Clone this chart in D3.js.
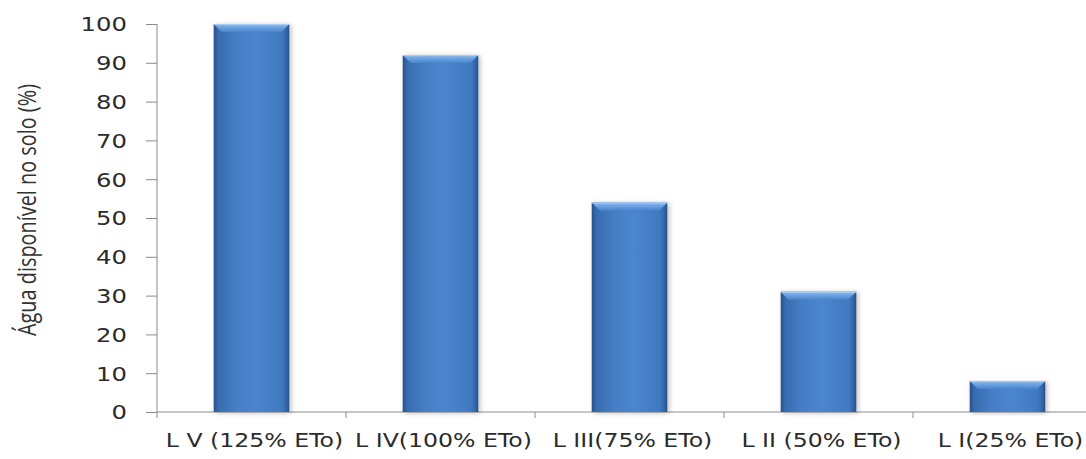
<!DOCTYPE html>
<html>
<head>
<meta charset="utf-8">
<script src="https://cdn.jsdelivr.net/npm/d3@7"></script>
<style>
  html, body { margin: 0; padding: 0; background: #fff; }
  svg { display: block; }
</style>
</head>
<body>
<svg id="chart" width="1086" height="459"></svg>
<script>
// Lâminas de irrigação e água disponível no solo
const categories = ["L V (125% ETo)", "L IV(100% ETo)", "L III(75% ETo)", "L II (50% ETo)", "L I(25% ETo)"];
const values = [100, 92, 54, 31, 8];
const yTicks = [0, 10, 20, 30, 40, 50, 60, 70, 80, 90, 100];
const yTitle = "Água disponível no solo (%)";

const W = 1086, H = 459;
const plotLeft = 157, plotTop = 24, plotBottom = 412, step = 189;

const svg = d3.select("#chart");

const x = d3.scaleBand()
  .domain(categories)
  .range([plotLeft, plotLeft + step * categories.length])
  .padding(0);
const y = d3.scaleLinear().domain([0, 100]).range([plotBottom, plotTop]);

const defs = svg.append("defs");

// body of each bar: darker at the sides, lighter in the middle
const gBody = defs.append("linearGradient").attr("id", "barBody")
  .attr("x1", "0").attr("x2", "1").attr("y1", "0").attr("y2", "0");
[[0, "#274f87"], [0.06, "#386cb0"], [0.3, "#467ec5"], [0.55, "#4b86cf"], [0.9, "#4079c0"], [0.96, "#3466a8"], [1, "#274f87"]]
  .forEach(([o, c]) => gBody.append("stop").attr("offset", o).attr("stop-color", c));

// top bevel
const gTop = defs.append("linearGradient").attr("id", "barTop")
  .attr("x1", "0").attr("x2", "0").attr("y1", "0").attr("y2", "1");
[[0, "#94c1f2"], [0.35, "#72a7e5"], [1, "#4a84cc"]]
  .forEach(([o, c]) => gTop.append("stop").attr("offset", o).attr("stop-color", c));

const shadow = defs.append("filter").attr("id", "barShadow")
  .attr("x", "-20%").attr("y", "-5%").attr("width", "140%").attr("height", "115%");
shadow.append("feGaussianBlur").attr("in", "SourceAlpha").attr("stdDeviation", 2.5).attr("result", "b");
shadow.append("feOffset").attr("in", "b").attr("dx", 2).attr("dy", 1).attr("result", "o");
shadow.append("feComponentTransfer").attr("in", "o").attr("result", "s")
  .append("feFuncA").attr("type", "linear").attr("slope", 0.25);
const merge = shadow.append("feMerge");
merge.append("feMergeNode").attr("in", "s");
merge.append("feMergeNode").attr("in", "SourceGraphic");

// axes
const axisColor = "#8c8c8c";
const yAxis = svg.append("g")
  .attr("transform", `translate(${plotLeft},0)`)
  .call(d3.axisLeft(y).tickValues(yTicks).tickSize(11).tickPadding(0).tickFormat(d3.format("d")));
yAxis.select(".domain").attr("stroke", axisColor).attr("d", `M0,${plotTop}V${plotBottom}`);
yAxis.selectAll(".tick line").attr("stroke", axisColor);
yAxis.selectAll(".tick text")
  .attr("font-family", "'DejaVu Sans', Verdana, sans-serif")
  .attr("font-size", 19)
  .attr("fill", "#2b2b2b")
  .attr("x", null)
  .attr("dy", "0.36em")
  .attr("transform", "translate(-30,0) scale(1.28,1)");

const xAxis = svg.append("g")
  .attr("transform", `translate(0,${plotBottom})`)
  .call(d3.axisBottom(x).tickSize(0).tickPadding(0));
xAxis.select(".domain").attr("stroke", axisColor).attr("d", `M${plotLeft},0H${W}`);
xAxis.selectAll(".tick line").remove();
xAxis.selectAll(".tick text")
  .attr("font-family", "'DejaVu Sans', Verdana, sans-serif")
  .attr("font-size", 20)
  .attr("fill", "#2b2b2b")
  .attr("y", null).attr("dy", null)
  .attr("transform", "translate(3,35) scale(1.18,1)");

// category separators on the x axis
const bounds = d3.range(categories.length + 1).map(i => plotLeft + i * x.step());
svg.append("g").selectAll("line")
  .data(bounds.filter(b => b < W))
  .join("line")
  .attr("x1", d => d).attr("x2", d => d)
  .attr("y1", plotBottom).attr("y2", plotBottom + 6)
  .attr("stroke", axisColor);

// bars
const bw = x.bandwidth() * 0.4;
const bev = 8;
const bars = svg.append("g").selectAll("g")
  .data(categories.map((c, i) => ({ c, v: values[i] })))
  .join("g")
  .attr("filter", "url(#barShadow)");

bars.append("rect")
  .attr("x", d => x(d.c) + x.bandwidth() / 2 - bw / 2)
  .attr("y", d => y(d.v))
  .attr("width", bw)
  .attr("height", d => plotBottom - y(d.v))
  .attr("fill", "url(#barBody)");

bars.append("path")
  .attr("fill", "url(#barTop)")
  .attr("d", d => {
    const x0 = x(d.c) + x.bandwidth() / 2 - bw / 2, x1 = x0 + bw, y0 = y(d.v);
    return `M${x0},${y0}H${x1}L${x1 - bev},${y0 + bev}H${x0 + bev}Z`;
  });

bars.append("line")
  .attr("x1", d => x(d.c) + x.bandwidth() / 2 - bw / 2)
  .attr("x2", d => x(d.c) + x.bandwidth() / 2 + bw / 2)
  .attr("y1", d => y(d.v) + 0.5).attr("y2", d => y(d.v) + 0.5)
  .attr("stroke", "#a9cdf5").attr("stroke-width", 1);

// y axis title
svg.append("text")
  .attr("transform", "translate(36,210) rotate(-90)")
  .attr("text-anchor", "middle")
  .attr("font-family", "'Open Sans', 'Noto Sans', sans-serif")
  .attr("font-size", 26)
  .attr("fill", "#333")
  .attr("textLength", 252)
  .attr("lengthAdjust", "spacingAndGlyphs")
  .text(yTitle);
</script>
</body>
</html>
